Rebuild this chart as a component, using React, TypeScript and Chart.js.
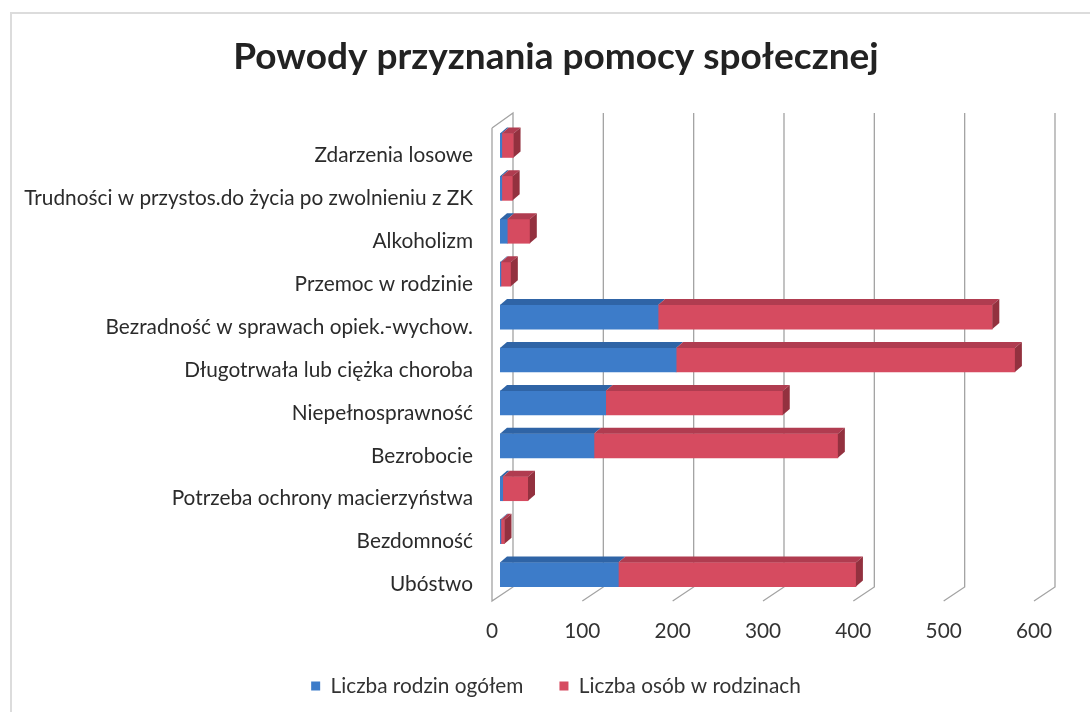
import React, { useEffect, useRef } from "react";
import { Chart, registerables } from "chart.js";

Chart.register(...registerables);

const categories = [
  "Zdarzenia losowe",
  "Trudności w przystos.do życia po zwolnieniu z ZK",
  "Alkoholizm",
  "Przemoc w rodzinie",
  "Bezradność w sprawach opiek.-wychow.",
  "Długotrwała lub ciężka choroba",
  "Niepełnosprawność",
  "Bezrobocie",
  "Potrzeba ochrony macierzyństwa",
  "Bezdomność",
  "Ubóstwo",
];
const rodzinyOgolem = [2, 2, 8, 1, 175, 195, 117, 104, 3, 1, 131];
const osobyWRodzinach = [13, 12, 25, 11, 370, 375, 196, 270, 28, 4, 263];
const xTicks = [0, 100, 200, 300, 400, 500, 600];
const seriesNames = ["Liczba rodzin ogółem", "Liczba osób w rodzinach"];
const chartTitle = "Powody przyznania pomocy społecznej";

const frontColors = ["#3d7cc9", "#d64b60"];
const topColors = ["#2f64a6", "#b03c50"];
const sideColor = "#93313f";

const BAR_DX = 7;
const BAR_DY = 6;
const WALL_BACK = 13;
const WALL_FRONT = -8;

const threeD = {
  id: "threeD",
  beforeDatasetsDraw(chart: any) {
    const { ctx, chartArea, scales } = chart;
    const xs = scales.x;
    const top = chartArea.top - 11;
    const floorBack = chartArea.bottom - 9;
    const floorFront = floorBack + 14;
    ctx.save();
    ctx.strokeStyle = "#a3a3a3";
    ctx.lineWidth = 1.3;
    xTicks.forEach((v) => {
      const px = xs.getPixelForValue(v);
      const bx = px + WALL_BACK;
      const fx = px + WALL_FRONT;
      ctx.beginPath();
      if (v === 0) {
        ctx.moveTo(fx, top + 15);
        ctx.lineTo(bx, top);
        ctx.lineTo(bx, floorBack);
        ctx.lineTo(fx, floorFront);
        ctx.lineTo(fx, top + 15);
      } else {
        ctx.moveTo(bx, top);
        ctx.lineTo(bx, floorBack);
        ctx.lineTo(fx, floorFront);
      }
      ctx.stroke();
    });
    ctx.restore();
  },
  afterDatasetsDraw(chart: any) {
    const { ctx } = chart;
    const n = chart.data.labels.length;
    const metas = chart.data.datasets.map((_: any, i: number) => chart.getDatasetMeta(i));
    ctx.save();
    for (let i = 0; i < n; i++) {
      metas.forEach((meta: any, di: number) => {
        const el = meta.data[i];
        if (!el) return;
        const { x, y, base, height } = el.getProps(["x", "y", "base", "height"], true);
        const t = y - height / 2;
        const b = y + height / 2;
        const left = Math.min(x, base);
        const right = Math.max(x, base);
        if (right - left < 0.3) return;
        ctx.fillStyle = topColors[di];
        ctx.beginPath();
        ctx.moveTo(left, t);
        ctx.lineTo(left + BAR_DX, t - BAR_DY);
        ctx.lineTo(right + BAR_DX, t - BAR_DY);
        ctx.lineTo(right, t);
        ctx.closePath();
        ctx.fill();
        if (di === metas.length - 1) {
          ctx.fillStyle = sideColor;
          ctx.beginPath();
          ctx.moveTo(right, t);
          ctx.lineTo(right + BAR_DX, t - BAR_DY);
          ctx.lineTo(right + BAR_DX, b - BAR_DY);
          ctx.lineTo(right, b);
          ctx.closePath();
          ctx.fill();
        }
      });
    }
    ctx.restore();
  },
};

export default function App() {
  const ref = useRef<HTMLCanvasElement | null>(null);

  useEffect(() => {
    if (!ref.current) return;
    const labelFont = { family: "Lato", size: 20.8 };
    const chart = new Chart(ref.current, {
      type: "bar",
      data: {
        labels: categories,
        datasets: [
          {
            label: seriesNames[0],
            data: rodzinyOgolem,
            backgroundColor: frontColors[0],
            borderWidth: 0,
            barThickness: 24,
            xAxisID: "x",
            yAxisID: "y",
          },
          {
            label: seriesNames[1],
            data: osobyWRodzinach,
            backgroundColor: frontColors[1],
            borderWidth: 0,
            barThickness: 24,
            xAxisID: "x",
            yAxisID: "y",
          },
        ],
      },
      options: {
        indexAxis: "y",
        animation: false,
        responsive: false,
        maintainAspectRatio: false,
        layout: { padding: { left: 22, right: 0, top: 12, bottom: 53.6 } },
        plugins: {
          title: {
            display: true,
            text: chartTitle,
            color: "#222222",
            font: { family: "Lato", size: 37, weight: "bold", lineHeight: 1.2 },
            padding: { top: 22.8, bottom: 44.8 },
          },
          legend: {
            position: "bottom",
            labels: {
              boxWidth: 9,
              boxHeight: 9,
              padding: 36,
              color: "#333333",
              font: labelFont,
            },
          },
          tooltip: { enabled: false },
        },
        scales: {
          x: {
            stacked: true,
            min: 0,
            max: 600,
            afterBuildTicks: (s: any) => {
              s.ticks = xTicks.map((v) => ({ value: v }));
            },
            ticks: { labelOffset: -8, padding: 23, color: "#333333", font: labelFont },
            grid: { display: false, drawTicks: false },
            border: { display: false },
            afterFit: (s: any) => {
              s.height = 43.6;
            },
          },
          y: {
            stacked: true,
            ticks: { padding: 27, labelOffset: 10, color: "#2b2b2b", font: labelFont },
            grid: { display: false, drawTicks: false },
            border: { display: false },
            afterFit: (s: any) => {
              s.width = 478;
            },
          },
          pad: {
            axis: "y",
            type: "linear",
            position: "right",
            display: true,
            grid: { display: false, drawTicks: false },
            border: { display: false },
            ticks: { display: false },
            afterFit: (s: any) => {
              s.width = 48;
            },
          },
        },
      } as any,
      plugins: [threeD],
    });
    return () => chart.destroy();
  }, []);

  return (
    <div
      style={{
        position: "fixed",
        left: 0,
        top: 0,
        width: 1090,
        height: 712,
        overflow: "hidden",
        background: "#ffffff",
      }}
    >
      <div
        style={{
          position: "absolute",
          left: 10,
          top: 12,
          width: 1100,
          height: 800,
          border: "2px solid #dcdcdc",
          boxSizing: "border-box",
        }}
      />
      <canvas
        ref={ref}
        width={1090}
        height={760}
        style={{ position: "absolute", left: 0, top: 0, display: "block" }}
      />
    </div>
  );
}
